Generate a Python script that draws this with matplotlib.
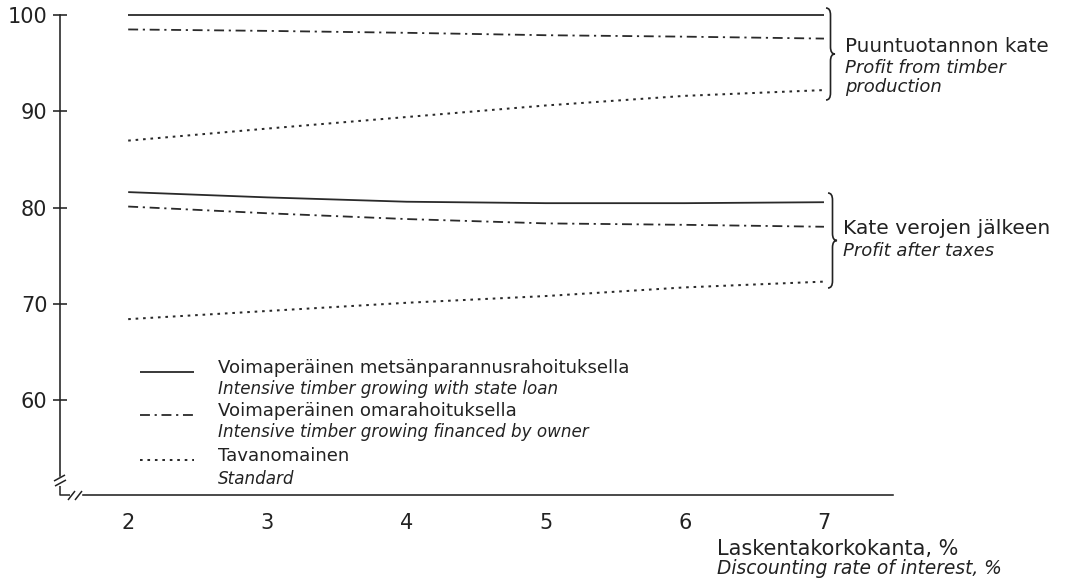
import matplotlib
matplotlib.use("Agg")
import matplotlib.pyplot as plt
from matplotlib.path import Path
from matplotlib.patches import PathPatch
from matplotlib.lines import Line2D

# Discounting rate of interest, %
rates = [2, 3, 4, 5, 6, 7]

# Profit from timber production (index)
prod_state_loan = [100.0, 100.0, 100.0, 100.0, 100.0, 100.0]
prod_owner = [98.5, 98.35, 98.15, 97.9, 97.75, 97.55]
prod_standard = [86.95, 88.2, 89.4, 90.6, 91.6, 92.2]

# Profit after taxes (index)
tax_state_loan = [81.6, 81.05, 80.6, 80.45, 80.45, 80.55]
tax_owner = [80.1, 79.4, 78.8, 78.35, 78.2, 78.0]
tax_standard = [68.4, 69.25, 70.1, 70.8, 71.7, 72.3]

y_ticks = [60, 70, 80, 90, 100]

legend_fi = ["Voimaperäinen metsänparannusrahoituksella",
             "Voimaperäinen omarahoituksella",
             "Tavanomainen"]
legend_en = ["Intensive timber growing with state loan",
             "Intensive timber growing financed by owner",
             "Standard"]

INK = "#222222"
LINE = "#2a2a2a"
plt.rcParams["font.family"] = ["DejaVu Sans"]

W, H = 1071, 581
fig = plt.figure(figsize=(W / 100, H / 100), dpi=100)
fig.patch.set_facecolor("white")


def fx(px):
    return px / W


def fy(py):
    return 1 - py / H


ax = fig.add_axes([fx(60), fy(495), 833 / W, 480 / H])
ax.set_xlim(1.51, 7.496)
ax.set_ylim(50.13, 100)

styles = {
    "solid": dict(ls="-", lw=1.3),
    "dashdot": dict(ls=(0, (5.5, 2.6, 1.2, 2.6)), lw=1.3),
    "dotted": dict(ls=(0, (1.3, 2.4)), lw=1.45),
}

for vals, key in [(prod_state_loan, "solid"), (prod_owner, "dashdot"),
                  (prod_standard, "dotted"), (tax_state_loan, "solid"),
                  (tax_owner, "dashdot"), (tax_standard, "dotted")]:
    ax.plot(rates, vals, color=LINE, clip_on=False,
            solid_capstyle="butt", dash_capstyle="butt", **styles[key])

# axes frame with broken-axis marks at the origin
for s in ("top", "right"):
    ax.spines[s].set_visible(False)
for s in ("left", "bottom"):
    ax.spines[s].set_linewidth(1.15)
    ax.spines[s].set_color(INK)
ax.spines["left"].set_bounds(52.1, 100)
ax.spines["bottom"].set_bounds(1.675, 7.496)


def axf(px, py):
    return (px - 60) / 833, (495 - py) / 480


def mark(points, lw=1.1):
    xs, ys = zip(*[axf(*p) for p in points])
    ax.add_line(Line2D(xs, ys, transform=ax.transAxes, color=INK, lw=lw,
                       clip_on=False, solid_capstyle="butt"))


mark([(54, 481), (65, 475)])
mark([(55, 486), (66, 480)])
mark([(60, 486), (60, 495), (70, 495)])
mark([(68, 500), (75, 491)])
mark([(75, 500), (82, 491)])

ax.set_yticks(y_ticks)
ax.set_yticklabels([str(v) for v in y_ticks])
ax.tick_params(axis="y", direction="inout", length=10, width=1.15,
               color=INK, pad=4, labelsize=15, labelcolor=INK)
ax.set_xticks(rates)
ax.set_xticklabels([str(r) for r in rates])
ax.tick_params(axis="x", length=0, pad=13, labelsize=15, labelcolor=INK)


# curly braces grouping the two families of curves
def brace(x, top, bot, w, r=7):
    mid = (top + bot) / 2
    pts = [(x, top), (x + w / 2, top), (x + w / 2, top + r),
           (x + w / 2, mid - r), (x + w / 2, mid), (x + w, mid),
           (x + w / 2, mid), (x + w / 2, mid + r),
           (x + w / 2, bot - r), (x + w / 2, bot), (x, bot)]
    codes = [Path.MOVETO, Path.CURVE3, Path.CURVE3, Path.LINETO,
             Path.CURVE3, Path.CURVE3, Path.CURVE3, Path.CURVE3,
             Path.LINETO, Path.CURVE3, Path.CURVE3]
    verts = [(fx(a), fy(b)) for a, b in pts]
    fig.add_artist(PathPatch(Path(verts, codes), transform=fig.transFigure,
                             fill=False, lw=1.2, edgecolor=INK))


brace(826, 8, 100, 9)
brace(828, 193, 288, 9)

fig.text(fx(845), fy(47), "Puuntuotannon kate", fontsize=14.4, va="center",
         color=INK)
fig.text(fx(845), fy(68), "Profit from timber", fontsize=13,
         style="italic", va="center", color=INK)
fig.text(fx(845), fy(87), "production", fontsize=13, style="italic",
         va="center", color=INK)
fig.text(fx(843), fy(228), "Kate verojen jälkeen", fontsize=14.6,
         va="center", color=INK)
fig.text(fx(843), fy(251), "Profit after taxes", fontsize=13,
         style="italic", va="center", color=INK)

fig.text(fx(717), fy(549), "Laskentakorkokanta, %", fontsize=15,
         va="center", color=INK)
fig.text(fx(717), fy(569), "Discounting rate of interest, %", fontsize=13.4,
         style="italic", va="center", color=INK)

# legend drawn as a two-language key
key_styles = ["solid", "dashdot", "dotted"]
fi_rows = [368, 411, 456]
en_rows = [389, 432, 479]
for fi, en, key, r1, r2 in zip(legend_fi, legend_en, key_styles,
                               fi_rows, en_rows):
    ax.add_line(Line2D([axf(140, r1 + 4)[0], axf(194, r1 + 4)[0]],
                       [axf(140, r1 + 4)[1]] * 2, transform=ax.transAxes,
                       color=LINE, solid_capstyle="butt",
                       dash_capstyle="butt", **styles[key]))
    fig.text(fx(218), fy(r1), fi, fontsize=13.1, va="center", color=INK)
    fig.text(fx(218), fy(r2), en, fontsize=12.1, style="italic", va="center",
             color=INK)

fig.savefig("out.png", dpi=100, facecolor="white")
